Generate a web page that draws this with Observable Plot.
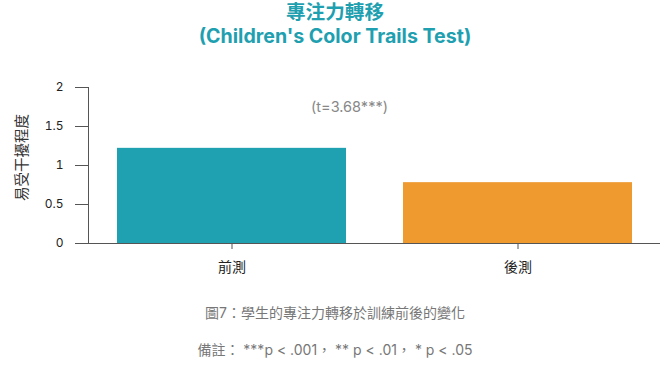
<!DOCTYPE html>
<html>
<head>
<meta charset="utf-8">
<script src="https://cdn.jsdelivr.net/npm/d3@7"></script>
<script src="https://cdn.jsdelivr.net/npm/@observablehq/plot@0.6"></script>
<style>
  body { margin: 0; background: #fff; font-family: Inter, "Noto Sans CJK TC", sans-serif; }
  #wrap { width: 670px; }
  .title { text-align: center; color: #1fa0b0; font-weight: bold; font-size: 19.6px; line-height: 24px; height: 24px; }
  #chart { height: 235px; }
  #chart svg { display: block; }
  .cap { text-align: center; color: #777; font-size: 14px; line-height: 20px; }
</style>
</head>
<body>
<div id="wrap">
  <div class="title">專注力轉移</div>
  <div class="title">(Children's Color Trails Test)</div>
  <div id="chart"></div>
  <div class="cap" style="margin-top:20px;">圖7：學生的專注力轉移於訓練前後的變化</div>
  <div class="cap" style="margin-top:17px;">備註： ***p &lt; .001，&nbsp;** p &lt; .01，&nbsp;* p &lt; .05</div>
</div>
<script>
const categories = ["前測", "後測"];
const values = [1.22, 0.78];
const colors = ["#1fa1b1", "#ee9a2f"];
const yTicks = [0, 0.5, 1, 1.5, 2];
const yLabel = "易受干擾程度";
const annotation = "(t=3.68***)";

const data = categories.map((c, i) => ({cat: c, value: values[i]}));

const chart = Plot.plot({
  width: 670,
  height: 235,
  marginTop: 39,
  marginLeft: 88,
  marginRight: 10,
  marginBottom: 40,
  style: {fontFamily: 'Inter, "Noto Sans CJK TC", sans-serif', fontSize: "12px", color: "#222"},
  x: {domain: categories, paddingInner: 0.2, paddingOuter: 0.1, label: null},
  y: {domain: [0, 2], label: null},
  color: {domain: categories, range: colors},
  marks: [
    Plot.barY(data, {x: "cat", y: "value", fill: "cat"}),
    Plot.axisY({ticks: yTicks, tickSize: 13, tickPadding: 12, stroke: "#555", tickFormat: d => String(d), label: null}),
    Plot.text([yLabel], {text: d => d, frameAnchor: "left", textAnchor: "middle", rotate: -90, dx: -66, dy: -8, fontSize: 14.5, fill: "#333"}),
    Plot.axisX({tickSize: 6, tickPadding: 13, stroke: "#555", fontSize: 14, label: null}),
    Plot.ruleY([0], {stroke: "#555"}),
    Plot.frame({anchor: "left", stroke: "#555"}),
    Plot.text([annotation], {text: d => d, frameAnchor: "top", dx: -25, dy: 14, fill: "#888", fontSize: 14.5})
  ]
});
document.getElementById("chart").appendChild(chart);
</script>
</body>
</html>
